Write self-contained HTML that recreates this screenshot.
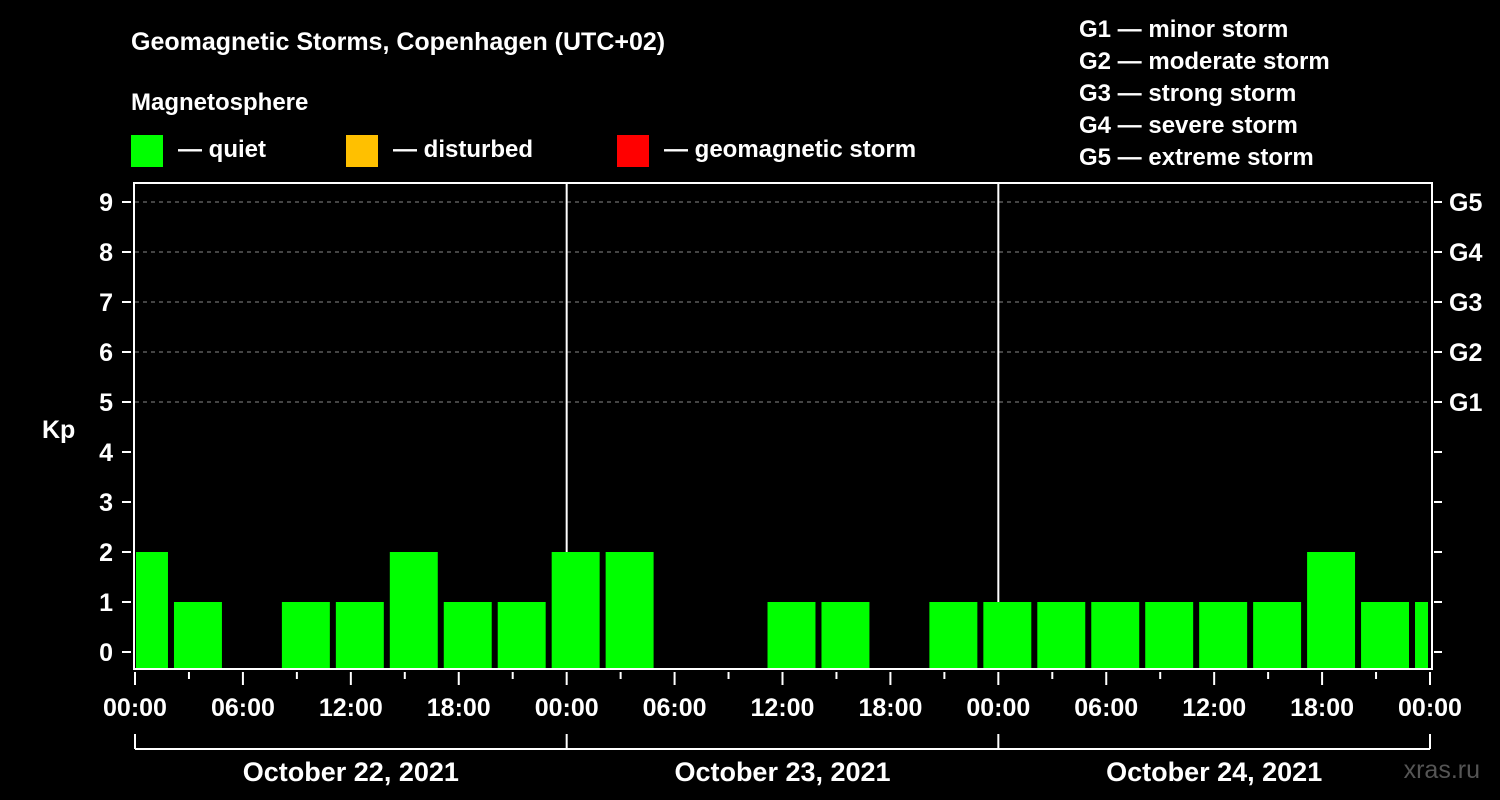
<!DOCTYPE html>
<html><head><meta charset="utf-8"><style>
html,body{margin:0;padding:0;background:#000;}
svg{display:block;font-family:"Liberation Sans",Arial,sans-serif;font-weight:bold;}
</style></head><body>
<svg id="chart" width="1500" height="800" viewBox="0 0 1500 800">
<rect x="0" y="0" width="1500" height="800" fill="#000"/>
<text x="131" y="50" fill="#fff" font-size="25">Geomagnetic Storms, Copenhagen (UTC+02)</text>
<text x="131" y="110" fill="#fff" font-size="24">Magnetosphere</text>
<g><rect x="131" y="135" width="32" height="32" fill="#00ff00"/><text x="178" y="157" fill="#fff" font-size="24">— quiet</text></g>
<g><rect x="346" y="135" width="32" height="32" fill="#ffc000"/><text x="393" y="157" fill="#fff" font-size="24">— disturbed</text></g>
<g><rect x="617" y="135" width="32" height="32" fill="#ff0000"/><text x="664" y="157" fill="#fff" font-size="24">— geomagnetic storm</text></g>
<g fill="#fff" font-size="24">
<text x="1079" y="37">G1 — minor storm</text>
<text x="1079" y="69">G2 — moderate storm</text>
<text x="1079" y="101">G3 — strong storm</text>
<text x="1079" y="133">G4 — severe storm</text>
<text x="1079" y="165">G5 — extreme storm</text>
</g>
<text x="42" y="438" fill="#fff" font-size="25">Kp</text>
<text x="1480" y="778" fill="#555" font-size="25" text-anchor="end" font-weight="normal">xras.ru</text>
<g id="grid"></g>
<g id="bars"></g>
<g id="axes"></g>
</svg>
<script>
const startHours=[-1,2,5,8,11,14,17,20,23,26,29,32,35,38,41,44,47,50,53,56,59,62,65,68,71];
const kpValues=[2,1,0,1,1,2,1,1,2,2,0,0,1,1,0,1,1,1,1,1,1,1,2,1,1];
const yTicks=[0,1,2,3,4,5,6,7,8,9];
const gLabels=["G1","G2","G3","G4","G5"];
const xTickLabels=["00:00","06:00","12:00","18:00","00:00","06:00","12:00","18:00","00:00","06:00","12:00","18:00","00:00"];
const dayLabels=["October 22, 2021","October 23, 2021","October 24, 2021"];
const NS="http://www.w3.org/2000/svg";
const X0=135,X1=1430,YB=669,YT=183;
const xs=h=>X0+h*(X1-X0)/72;
const ys=v=>652-50*v;
function mk(tag,attrs,parent){const e=document.createElementNS(NS,tag);for(const k in attrs)e.setAttribute(k,attrs[k]);parent.appendChild(e);return e;}
const grid=document.getElementById('grid'),bars=document.getElementById('bars'),axes=document.getElementById('axes');
for(let v=5;v<=9;v++){const l=mk('line',{x1:X0,x2:X1,y1:ys(v),y2:ys(v),stroke:'#888','stroke-width':1,'stroke-dasharray':'4,4'},grid);

}
for(let d=1;d<3;d++){const l=mk('line',{x1:xs(24*d),x2:xs(24*d),y1:YT,y2:YB,stroke:'#fff','stroke-width':2},grid);

}
startHours.forEach((h,i)=>{const v=kpValues[i];if(v<=0)return;
let a=Math.max(xs(h)+3,X0+1),b=Math.min(xs(h+3)-3,X1-2);
const c=v>=5?'#ff0000':(v>=4?'#ffc000':'#00ff00');
const r=mk('rect',{x:a,y:ys(v),width:b-a,height:YB-1-ys(v),fill:c},bars);

});
const frame=mk('rect',{x:X0-1,y:YT,width:X1-X0+3,height:YB-YT,fill:'none',stroke:'#fff','stroke-width':2},axes);


yTicks.forEach(v=>{mk('line',{x1:122,x2:131,y1:ys(v),y2:ys(v),stroke:'#fff','stroke-width':2},axes);
mk('line',{x1:1434,x2:1442,y1:ys(v),y2:ys(v),stroke:'#fff','stroke-width':2},axes);
const t=mk('text',{x:113,y:ys(v)+9,fill:'#fff','font-size':25,'text-anchor':'end'},axes);t.textContent=v;

});
gLabels.forEach((g,i)=>{const t=mk('text',{x:1449,y:ys(5+i)+9,fill:'#fff','font-size':25},axes);t.textContent=g;

});
for(let h=0;h<=72;h+=3){const major=h%6===0;mk('line',{x1:xs(h),x2:xs(h),y1:672,y2:major?685:679,stroke:'#fff','stroke-width':2},axes);}
xTickLabels.forEach((s,i)=>{const t=mk('text',{x:xs(i*6),y:716,fill:'#fff','font-size':25,'text-anchor':'middle'},axes);t.textContent=s;

});
mk('line',{x1:X0,x2:X1,y1:749,y2:749,stroke:'#fff','stroke-width':2},axes);
for(let d=0;d<=3;d++)mk('line',{x1:xs(24*d),x2:xs(24*d),y1:734,y2:749,stroke:'#fff','stroke-width':2},axes);
dayLabels.forEach((s,i)=>{const t=mk('text',{x:xs(24*i+12),y:781,fill:'#fff','font-size':27,'text-anchor':'middle'},axes);t.textContent=s;

});
</script>
</body></html>
